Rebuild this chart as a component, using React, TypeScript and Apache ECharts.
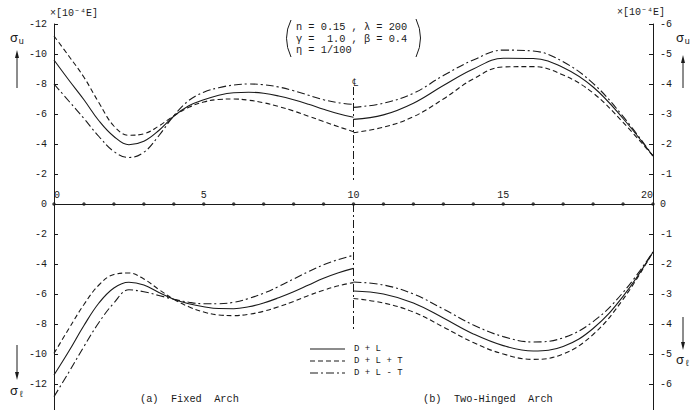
import React, { useEffect, useRef } from "react";
import * as echarts from "echarts";

// Span positions along the arch (0 = springing, 10 = crown, 20 = springing)
const fixedX = [0, 0.5, 1, 1.5, 2, 2.5, 3, 3.5, 4, 4.5, 5, 5.5, 6, 6.5, 7, 7.5, 8, 8.5, 9, 9.5, 10];
const hingedX = [10, 11, 12, 13, 14, 15, 16, 17, 18, 19, 20];
const axisDots = [0, 1, 2, 3, 4, 5, 6, 7, 8, 9, 10, 11, 12, 13, 14, 15, 16, 17, 18, 19, 20];

// (a) Fixed arch, upper fibre stress sigma_u [x 10^-4 E]
const fixedUpperDL = [-9.6, -8.25, -6.95, -5.55, -4.5, -3.95, -4.18, -4.9, -5.85, -6.55, -6.95, -7.25, -7.42, -7.45, -7.38, -7.2, -6.95, -6.65, -6.32, -6.02, -5.78];
const fixedUpperDLpT = [-11.2, -9.85, -8.45, -6.75, -5.2, -4.58, -4.68, -5.2, -5.88, -6.45, -6.8, -6.97, -7.0, -6.92, -6.75, -6.5, -6.2, -5.85, -5.5, -5.15, -4.82];
const fixedUpperDLmT = [-8.0, -6.85, -5.7, -4.5, -3.5, -3.1, -3.45, -4.55, -5.88, -6.9, -7.45, -7.75, -7.93, -8.0, -7.95, -7.8, -7.55, -7.25, -6.95, -6.75, -6.64];

// (a) Fixed arch, lower fibre stress sigma_l [x 10^-4 E]
const fixedLowerDL = [-11.4, -9.8, -8.1, -6.6, -5.6, -5.22, -5.4, -5.9, -6.35, -6.65, -6.85, -6.97, -6.98, -6.85, -6.6, -6.25, -5.85, -5.4, -4.95, -4.58, -4.29];
const fixedLowerDLpT = [-9.96, -8.3, -6.7, -5.4, -4.7, -4.6, -5.0, -5.7, -6.35, -6.85, -7.2, -7.4, -7.44, -7.35, -7.15, -6.85, -6.5, -6.1, -5.75, -5.45, -5.24];
const fixedLowerDLmT = [-12.84, -11.2, -9.5, -7.9, -6.6, -5.72, -5.85, -6.1, -6.35, -6.55, -6.65, -6.65, -6.55, -6.3, -5.95, -5.5, -5.0, -4.5, -4.05, -3.7, -3.42];

// (b) Two-hinged arch, upper fibre stress sigma_u [x 10^-4 E], right-hand scale
const hingedUpperDL = [-2.82, -2.97, -3.36, -3.95, -4.5, -4.86, -4.85, -4.55, -3.9, -2.85, -1.6];
const hingedUpperDLpT = [-2.38, -2.56, -2.91, -3.5, -4.17, -4.57, -4.58, -4.3, -3.7, -2.72, -1.6];
const hingedUpperDLmT = [-3.22, -3.36, -3.69, -4.28, -4.8, -5.13, -5.1, -4.74, -4.02, -2.92, -1.6];

// (b) Two-hinged arch, lower fibre stress sigma_l [x 10^-4 E], right-hand scale
const hingedLowerDL = [-2.9, -3.0, -3.3, -3.8, -4.33, -4.72, -4.9, -4.75, -4.15, -3.08, -1.6];
const hingedLowerDLpT = [-3.15, -3.3, -3.6, -4.1, -4.62, -5.0, -5.18, -5.0, -4.35, -3.18, -1.6];
const hingedLowerDLmT = [-2.6, -2.7, -3.0, -3.5, -4.03, -4.42, -4.6, -4.46, -3.92, -2.95, -1.6];

// Crown centre line extents
const crownUpper = [-7.8, -1.4];
const crownLower = [0, -8.4];

const legendNames = ["D + L", "D + L + T", "D + L - T"];
const paramLines = ["n = 0.15 , λ = 200", "γ =  1.0 , β = 0.4", "η = 1/100"];

const INK = "#1a1a1a";
const MONO = "'Liberation Mono', 'DejaVu Sans Mono', monospace";
const DASH = [5, 3];
const DASHDOT = [8, 3, 2, 3];
const styles: any[] = ["solid", DASH, DASHDOT];

const pts = (xs: number[], ys: number[]) => xs.map((x, i) => [x, ys[i]]);

function curve(name: string, xi: number, yi: number, xs: number[], ys: number[], type: any) {
  return {
    name,
    type: "line",
    xAxisIndex: xi,
    yAxisIndex: yi,
    data: pts(xs, ys),
    smooth: 0.4,
    showSymbol: false,
    silent: true,
    lineStyle: { color: INK, width: 1.1, type },
  };
}

function valueAxis(extra: any) {
  return {
    type: "value",
    splitLine: { show: false },
    axisLine: { show: true, onZero: false, lineStyle: { color: INK, width: 1 } },
    axisTick: { show: true, inside: true, length: 4, lineStyle: { color: INK } },
    axisLabel: { color: INK, fontFamily: MONO, fontSize: 10, margin: 7 },
    ...extra,
  };
}

function sigma(x: number, y: number, sub: string) {
  return [
    { type: "text", x, y, style: { text: "σ", fontFamily: MONO, fontSize: 13, fill: INK, verticalAlign: "middle" } },
    { type: "text", x: x + 8.5, y: y + 4, style: { text: sub, fontFamily: MONO, fontSize: 9, fill: INK, verticalAlign: "middle" } },
  ];
}

function arrow(x: number, yTail: number, yHead: number) {
  const d = yHead < yTail ? 1 : -1;
  return [
    { type: "line", shape: { x1: x, y1: yTail, x2: x, y2: yHead + d * 5 }, style: { stroke: INK, lineWidth: 1 } },
    { type: "polygon", shape: { points: [[x, yHead], [x - 2, yHead + d * 8], [x + 2, yHead + d * 8]] }, style: { fill: INK } },
  ];
}

function text(x: number, y: number, s: string, size: number, align = "left") {
  return { type: "text", x, y, style: { text: s, fontFamily: MONO, fontSize: size, fill: INK, align, verticalAlign: "middle" } };
}

export default function App() {
  const ref = useRef<HTMLDivElement>(null);
  useEffect(() => {
    if (!ref.current) return;
    const chart = echarts.init(ref.current, null, { renderer: "svg" });

    const legendGraphics: any[] = [];
    legendNames.forEach((n, i) => {
      const y = 349 + i * 12;
      legendGraphics.push({ type: "line", shape: { x1: 310, y1: y, x2: 345, y2: y }, style: { stroke: INK, lineWidth: 1.1, lineDash: styles[i] === "solid" ? null : styles[i] } });
      legendGraphics.push(text(354, y, n, 9));
    });

    const option: any = {
      animation: false,
      backgroundColor: "#ffffff",
      grid: [
        { left: 54, top: 24, width: 599, height: 180, outerBoundsMode: "none" },
        { left: 54, top: 204, width: 599, height: 210, outerBoundsMode: "none" },
      ],
      xAxis: [
        {
          gridIndex: 0,
          type: "value",
          min: 0,
          max: 20,
          interval: 5,
          splitLine: { show: false },
          axisTick: { show: false },
          axisLine: { show: true, onZero: false, lineStyle: { color: INK, width: 1 } },
          axisLabel: { inside: true, margin: 4, color: INK, fontFamily: MONO, fontSize: 10, alignMinLabel: "left", alignMaxLabel: "right" },
        },
        { gridIndex: 1, type: "value", min: 0, max: 20, show: false },
      ],
      yAxis: [
        valueAxis({ gridIndex: 0, min: -12, max: 0, interval: 2, inverse: true, position: "left" }),
        valueAxis({ gridIndex: 0, min: -6, max: 0, interval: 1, inverse: true, position: "right" }),
        valueAxis({ gridIndex: 1, min: -14, max: 0, interval: 2, position: "left", axisLabel: { color: INK, fontFamily: MONO, fontSize: 10, margin: 7, showMaxLabel: false } }),
        valueAxis({ gridIndex: 1, min: -7, max: 0, interval: 1, position: "right", axisLabel: { color: INK, fontFamily: MONO, fontSize: 10, margin: 7, showMaxLabel: false, showMinLabel: false } }),
      ],
      series: [
        curve("D + L", 0, 0, fixedX, fixedUpperDL, styles[0]),
        curve("D + L + T", 0, 0, fixedX, fixedUpperDLpT, styles[1]),
        curve("D + L - T", 0, 0, fixedX, fixedUpperDLmT, styles[2]),
        curve("D + L", 0, 1, hingedX, hingedUpperDL, styles[0]),
        curve("D + L + T", 0, 1, hingedX, hingedUpperDLpT, styles[1]),
        curve("D + L - T", 0, 1, hingedX, hingedUpperDLmT, styles[2]),
        curve("D + L", 1, 2, fixedX, fixedLowerDL, styles[0]),
        curve("D + L + T", 1, 2, fixedX, fixedLowerDLpT, styles[1]),
        curve("D + L - T", 1, 2, fixedX, fixedLowerDLmT, styles[2]),
        curve("D + L", 1, 3, hingedX, hingedLowerDL, styles[0]),
        curve("D + L + T", 1, 3, hingedX, hingedLowerDLpT, styles[1]),
        curve("D + L - T", 1, 3, hingedX, hingedLowerDLmT, styles[2]),
        {
          type: "line", xAxisIndex: 0, yAxisIndex: 0, showSymbol: false, silent: true,
          data: crownUpper.map((v) => [10, v]),
          lineStyle: { color: INK, width: 1, type: DASHDOT },
        },
        {
          type: "line", xAxisIndex: 1, yAxisIndex: 2, showSymbol: false, silent: true,
          data: crownLower.map((v) => [10, v]),
          lineStyle: { color: INK, width: 1, type: DASHDOT },
        },
        {
          type: "scatter", xAxisIndex: 0, yAxisIndex: 0, clip: false, silent: true,
          symbolSize: 3.5,
          itemStyle: { color: INK },
          data: axisDots.map((t) => [t, 0]),
        },
      ],
      graphic: [
        text(50, 13, "×[10⁻⁴E]", 10),
        text(617, 12, "×[10⁻⁴E]", 10),
        ...sigma(10, 38, "u"),
        ...arrow(17, 88, 50),
        ...sigma(10, 391, "ℓ"),
        ...arrow(17, 345, 380),
        ...sigma(676, 38, "u"),
        ...arrow(683, 88, 55),
        ...sigma(676, 360, "ℓ"),
        ...arrow(683, 317, 350),
        { type: "bezierCurve", shape: { x1: 291, y1: 20, cpx1: 282, cpy1: 38, x2: 291, y2: 57 }, style: { stroke: INK, lineWidth: 1, fill: null } },
        { type: "bezierCurve", shape: { x1: 416, y1: 19, cpx1: 425, cpy1: 38, x2: 416, y2: 57 }, style: { stroke: INK, lineWidth: 1, fill: null } },
        ...paramLines.map((s, i) => text(296, 27 + i * 11.5, s, 10.3)),
        text(355, 83, "℄", 11, "center"),
        ...legendGraphics,
        text(140, 399, "(a)  Fixed  Arch", 10.3),
        text(423, 399, "(b)  Two-Hinged  Arch", 10.3),
      ],
    };
    chart.setOption(option);
    return () => chart.dispose();
  }, []);
  return (
    <div
      ref={ref}
      style={{ position: "fixed", left: 0, top: 0, width: 697, height: 410, background: "#fff" }}
    />
  );
}
